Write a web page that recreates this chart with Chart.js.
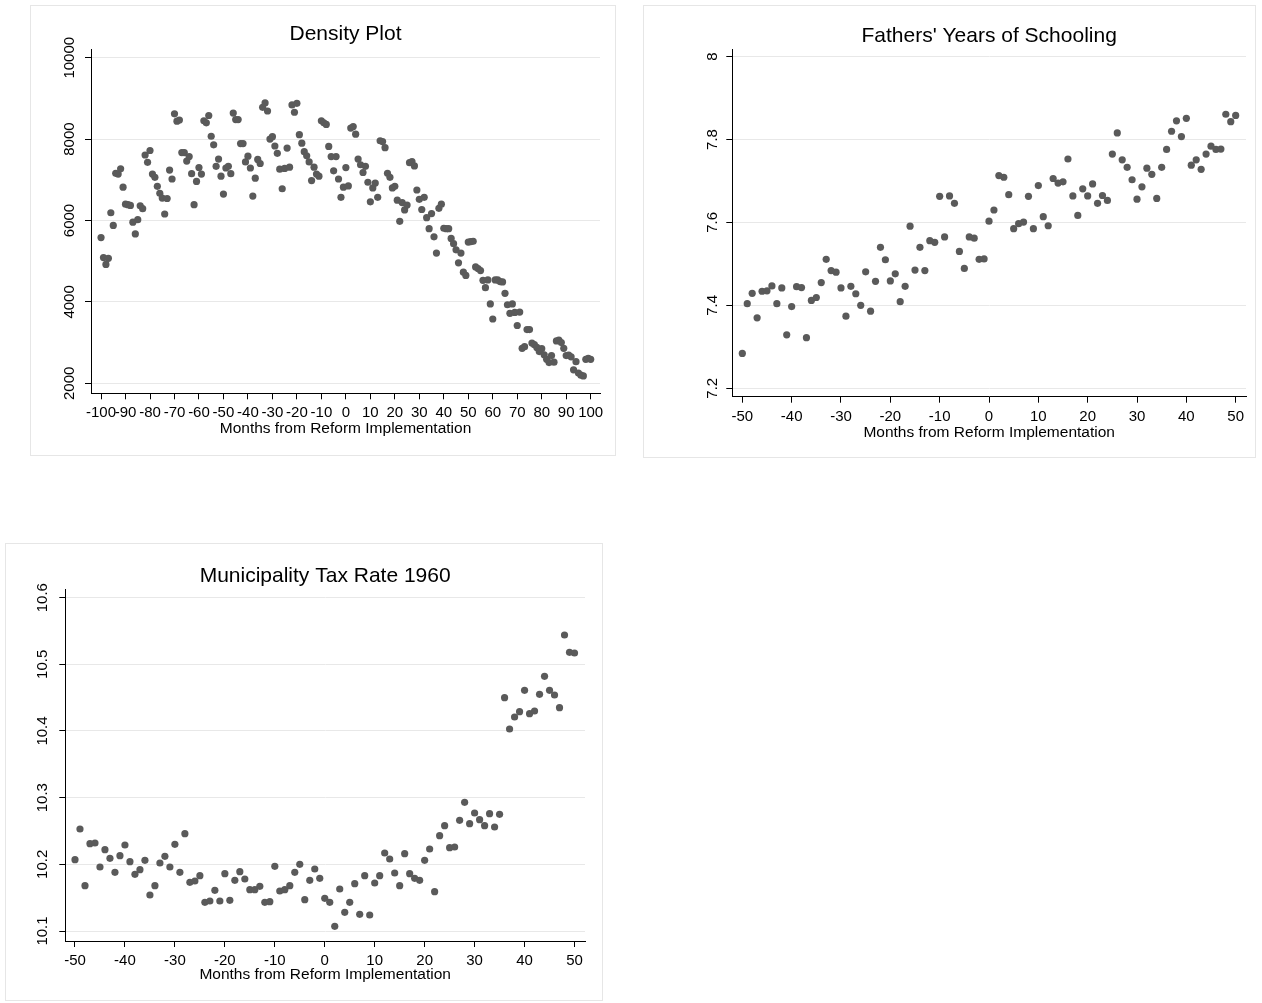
<!DOCTYPE html>
<html>
<head>
<meta charset="utf-8">
<title>Reform plots</title>
<script src="https://cdn.jsdelivr.net/npm/chart.js@4.4.0/dist/chart.umd.min.js"></script>
<style>
  body { margin: 0; background: #fff; width: 1262px; height: 1003px; position: relative; overflow: hidden; }
  .panel { position: absolute; border: 1px solid #e6e6e6; box-sizing: border-box; }
  canvas { position: absolute; }
</style>
</head>
<body>
<div class="panel" style="left:30px;top:5px;width:586px;height:451px"></div>
<div class="panel" style="left:643px;top:5px;width:613px;height:453px"></div>
<div class="panel" style="left:5px;top:543px;width:598px;height:458px"></div>
<canvas id="density" width="586" height="451" style="left:30px;top:5px"></canvas>
<canvas id="fathers" width="613" height="453" style="left:643px;top:5px"></canvas>
<canvas id="tax" width="598" height="458" style="left:5px;top:543px"></canvas>
<script>
// months from reform, -100..100 for the density plot
const monthsLong = [-100,-99,-98,-97,-96,-95,-94,-93,-92,-91,-90,-89,-88,-87,-86,-85,-84,-83,-82,-81,
  -80,-79,-78,-77,-76,-75,-74,-73,-72,-71,-70,-69,-68,-67,-66,-65,-64,-63,-62,-61,
  -60,-59,-58,-57,-56,-55,-54,-53,-52,-51,-50,-49,-48,-47,-46,-45,-44,-43,-42,-41,
  -40,-39,-38,-37,-36,-35,-34,-33,-32,-31,-30,-29,-28,-27,-26,-25,-24,-23,-22,-21,
  -20,-19,-18,-17,-16,-15,-14,-13,-12,-11,-10,-9,-8,-7,-6,-5,-4,-3,-2,-1,
  0,1,2,3,4,5,6,7,8,9,10,11,12,13,14,15,16,17,18,19,
  20,21,22,23,24,25,26,27,28,29,30,31,32,33,34,35,36,37,38,39,
  40,41,42,43,44,45,46,47,48,49,50,51,52,53,54,55,56,57,58,59,
  60,61,62,63,64,65,66,67,68,69,70,71,72,73,74,75,76,77,78,79,
  80,81,82,83,84,85,86,87,88,89,90,91,92,93,94,95,96,97,98,99,100];
const densityValues = [5580,5090,4920,5070,6190,5880,7160,7140,7270,6820,6400,6390,6370,5960,5670,6020,6360,6290,7610,7430,
  7720,7140,7060,6840,6670,6550,6160,6540,7240,7020,8620,8440,8470,7670,7670,7460,7570,7150,6390,6960,
  7300,7140,8450,8400,8580,8070,7860,7330,7510,7090,6650,7290,7330,7150,8640,8480,8480,7890,7890,7440,
  7580,7290,6600,7040,7500,7400,8780,8890,8690,8000,8060,7830,7650,7260,6780,7280,7780,7310,8840,8660,
  8880,8110,7900,7690,7590,7440,6980,7310,7140,7090,8450,8400,8360,7820,7570,7220,7570,7020,6570,6820,
  7300,6850,8270,8310,8120,7510,7370,7180,7330,6940,6460,6800,6920,6570,7960,7940,7790,7160,7060,6800,
  6840,6500,5980,6440,6260,6380,7420,7450,7340,6750,6520,6270,6570,6070,5800,6170,5600,5200,6300,6400,
  5810,5800,5800,5560,5430,5280,4960,5200,4730,4650,5470,5480,5490,4860,4820,4770,4530,4350,4540,3950,
  3580,4540,4540,4500,4490,4210,3930,3720,3950,3740,3420,3750,2860,2900,3320,3320,2990,2950,2880,2780,
  2850,2700,2590,2510,2680,2520,3040,3060,3000,2860,2680,2690,2650,2330,2530,2250,2200,2180,2590,2610,2590];
const densityXTicks = [-100,-90,-80,-70,-60,-50,-40,-30,-20,-10,0,10,20,30,40,50,60,70,80,90,100];
const densityYTicks = [2000,4000,6000,8000,10000];

// months from reform, -50..50 for the other two
const monthsShort = [-50,-49,-48,-47,-46,-45,-44,-43,-42,-41,-40,-39,-38,-37,-36,-35,-34,-33,-32,-31,
  -30,-29,-28,-27,-26,-25,-24,-23,-22,-21,-20,-19,-18,-17,-16,-15,-14,-13,-12,-11,
  -10,-9,-8,-7,-6,-5,-4,-3,-2,-1,0,1,2,3,4,5,6,7,8,9,
  10,11,12,13,14,15,16,17,18,19,20,21,22,23,24,25,26,27,28,29,
  30,31,32,33,34,35,36,37,38,39,40,41,42,43,44,45,46,47,48,49,50];
const fathersValues = [7.284,7.404,7.429,7.370,7.434,7.435,7.447,7.404,7.442,7.329,7.397,7.445,7.443,7.322,7.412,7.419,7.455,7.511,7.484,7.480,
  7.442,7.374,7.446,7.428,7.400,7.481,7.386,7.458,7.540,7.510,7.459,7.476,7.409,7.446,7.591,7.485,7.540,7.484,7.556,7.552,
  7.663,7.565,7.664,7.646,7.530,7.489,7.565,7.562,7.511,7.512,7.603,7.630,7.713,7.709,7.667,7.585,7.597,7.601,7.663,7.585,
  7.689,7.614,7.592,7.706,7.695,7.698,7.753,7.664,7.617,7.681,7.664,7.693,7.646,7.665,7.653,7.765,7.816,7.751,7.733,7.703,
  7.656,7.686,7.731,7.716,7.658,7.733,7.776,7.820,7.845,7.807,7.851,7.738,7.751,7.728,7.765,7.784,7.776,7.777,7.861,7.843,7.858];
const taxValues = [10.207,10.253,10.168,10.231,10.232,10.196,10.222,10.209,10.188,10.213,10.229,10.204,10.185,10.192,10.206,10.154,10.168,10.202,10.212,10.196,
  10.230,10.188,10.246,10.173,10.175,10.183,10.143,10.145,10.161,10.145,10.186,10.146,10.176,10.189,10.178,10.162,10.162,10.167,10.143,10.144,
  10.197,10.160,10.162,10.168,10.188,10.200,10.147,10.176,10.193,10.179,10.149,10.143,10.107,10.163,10.128,10.143,10.171,10.125,10.183,10.124,
  10.172,10.183,10.217,10.208,10.187,10.168,10.216,10.186,10.179,10.176,10.206,10.223,10.159,10.243,10.258,10.225,10.226,10.266,10.293,10.261,
  10.277,10.267,10.258,10.276,10.256,10.275,10.450,10.403,10.421,10.429,10.461,10.426,10.430,10.455,10.482,10.461,10.454,10.435,10.544,10.518,10.517];
const shortXTicks = [-50,-40,-30,-20,-10,0,10,20,30,40,50];
const fathersYTicks = [7.2,7.4,7.6,7.8,8];
const taxYTicks = [10.1,10.2,10.3,10.4,10.5,10.6];
const xAxisTitle = 'Months from Reform Implementation';

const FONT = '"Liberation Sans", Arial, Helvetica, sans-serif';
Chart.defaults.font.family = FONT;
Chart.defaults.color = '#000';

// chart title, x axis title and vertical y tick labels, placed like the stata export
const panelText = {
  id: 'panelText',
  afterDraw(chart, args, opts) {
    const ctx = chart.ctx, area = chart.chartArea, ys = chart.scales.y;
    const mid = (area.left + area.right) / 2;
    ctx.save();
    ctx.fillStyle = '#000';
    ctx.textAlign = 'center';
    ctx.textBaseline = 'middle';
    ctx.font = '21px ' + FONT;
    ctx.fillText(opts.title, mid, opts.titleY);
    ctx.font = '15.5px ' + FONT;
    ctx.fillText(xAxisTitle, mid, area.bottom + opts.xTitleGap);
    ctx.font = '15px ' + FONT;
    ys.ticks.forEach(t => {
      ctx.save();
      ctx.translate(area.left - opts.labelGap, ys.getPixelForValue(t.value));
      ctx.rotate(-Math.PI / 2);
      ctx.fillText(String(t.value), 0, 0);
      ctx.restore();
    });
    ctx.restore();
  }
};

function makePlot(id, cfg) {
  const points = cfg.xs.map((x, i) => ({ x: x, y: cfg.ys[i] }));
  return new Chart(document.getElementById(id), {
    type: 'scatter',
    data: { datasets: [{ data: points, backgroundColor: '#5a5a5a', borderWidth: 0, pointRadius: 3.6, pointHoverRadius: 3.6 }] },
    plugins: [panelText],
    options: {
      responsive: false,
      animation: false,
      events: [],
      layout: { padding: cfg.padding },
      plugins: {
        legend: { display: false },
        tooltip: { enabled: false },
        panelText: { title: cfg.title, titleY: cfg.titleY, labelGap: cfg.labelGap, xTitleGap: cfg.xTitleGap }
      },
      scales: {
        x: {
          type: 'linear',
          min: cfg.xRange[0], max: cfg.xRange[1],
          afterBuildTicks: s => { s.ticks = cfg.xTicks.map(v => ({ value: v })); },
          ticks: { autoSkip: false, maxRotation: 0, minRotation: 0, padding: 5, font: { size: 15 }, callback: v => String(v) },
          grid: { drawOnChartArea: false, drawTicks: true, tickLength: 6, tickColor: '#000' },
          border: { color: '#000', width: 1 }
        },
        y: {
          type: 'linear',
          min: cfg.yRange[0], max: cfg.yRange[1],
          afterBuildTicks: s => { s.ticks = cfg.yTicks.map(v => ({ value: v })); },
          ticks: { display: false },
          grid: { color: '#e8e8e8', lineWidth: 1, drawTicks: true, tickLength: 6, tickColor: '#000' },
          border: { color: '#000', width: 1 }
        }
      }
    }
  });
}

// x axis box = 6 tick + 2*5 padding + 18 label line = 34px
makePlot('density', {
  xs: monthsLong, ys: densityValues, xTicks: densityXTicks, yTicks: densityYTicks,
  xRange: [-104.1, 103.8], yRange: [1754, 10214],
  padding: { left: 55, right: 16, top: 44, bottom: 28.7 },
  title: 'Density Plot', titleY: 29, labelGap: 21, xTitleGap: 35
});
makePlot('fathers', {
  xs: monthsShort, ys: fathersValues, xTicks: shortXTicks, yTicks: fathersYTicks,
  xRange: [-52.03, 52.09], yRange: [7.1797, 8.0176],
  padding: { left: 83.3, right: 10, top: 44.3, bottom: 27.3 },
  title: "Fathers' Years of Schooling", titleY: 31, labelGap: 19, xTitleGap: 36
});
makePlot('tax', {
  xs: monthsShort, ys: taxValues, xTicks: shortXTicks, yTicks: taxYTicks,
  xRange: [-51.94, 52.1], yRange: [10.085, 10.613],
  padding: { left: 54.3, right: 18, top: 46, bottom: 26 },
  title: 'Municipality Tax Rate 1960', titleY: 33, labelGap: 22, xTitleGap: 33.5
});
</script>
</body>
</html>
